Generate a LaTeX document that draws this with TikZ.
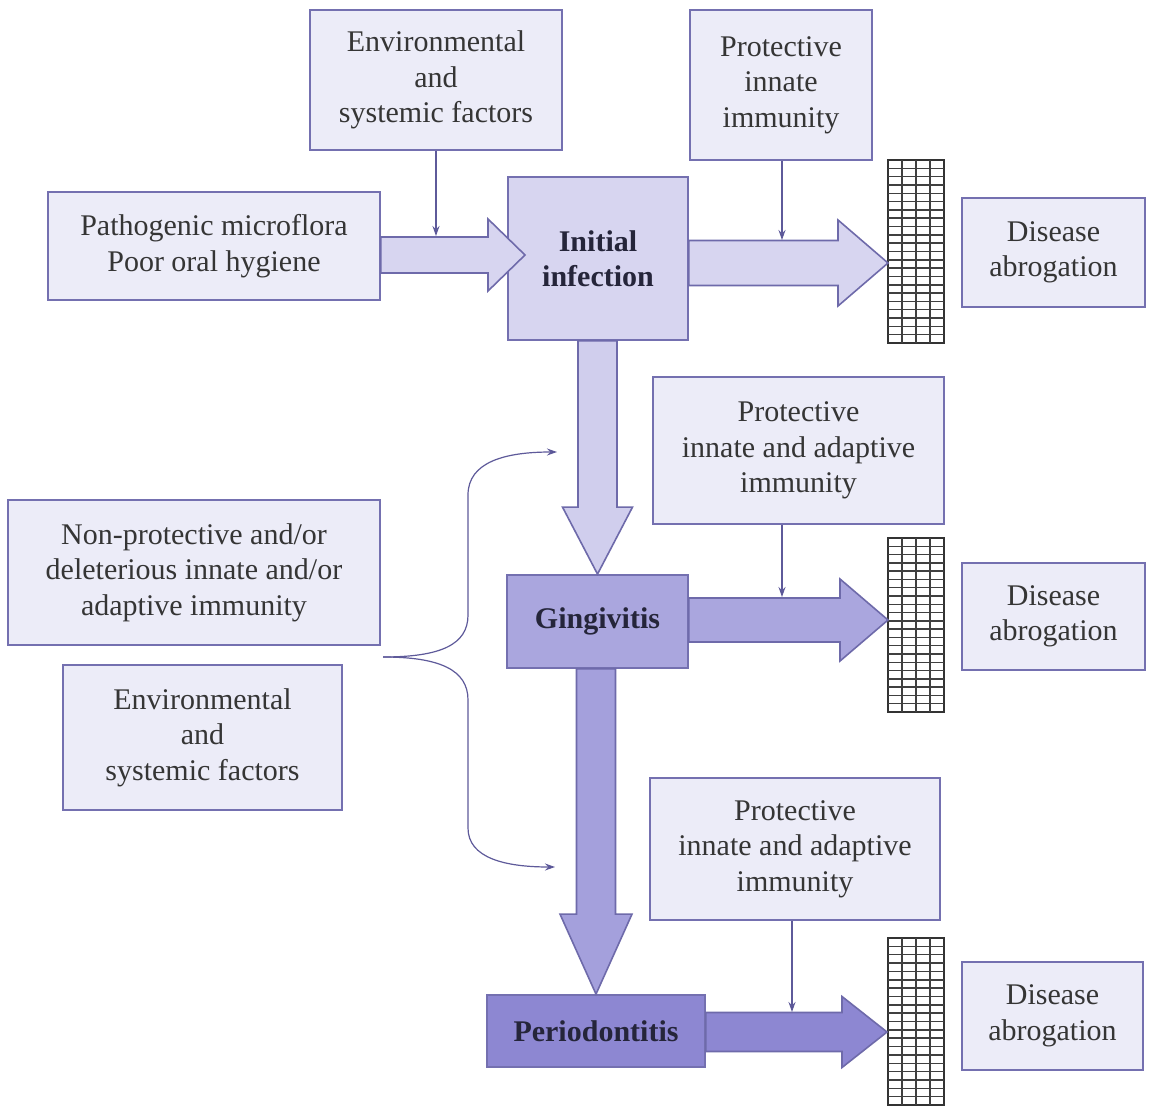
\documentclass[tikz,border=0pt]{standalone}
\usepackage{fontspec}
\setmainfont{Liberation Serif}
\usetikzlibrary{arrows.meta,calc}

\definecolor{edge}{HTML}{7470B0}
\definecolor{arredge}{HTML}{6E6AAA}
\definecolor{txtfill}{HTML}{ECECF8}
\definecolor{initfill}{HTML}{D7D5F0}
\definecolor{gingfill}{HTML}{AAA6DE}
\definecolor{periofill}{HTML}{8D87D2}
\definecolor{txtcol}{HTML}{353535}
\definecolor{boldcol}{HTML}{25253A}
\definecolor{thinline}{HTML}{5E5A9A}
\definecolor{tipcol}{HTML}{35357A}

% horizontal block arrow: start, tip, shaft half-width, head half-width, head length, fill
\newcommand\rightblock[6]{%
  \draw[blockarr,fill=#6] let \p1=(#1),\p2=(#2) in
    (\x1,\y2+#3) -- (\x2-#5,\y2+#3) -- (\x2-#5,\y2+#4) -- (\x2,\y2)
    -- (\x2-#5,\y2-#4) -- (\x2-#5,\y2-#3) -- (\x1,\y2-#3) -- cycle;}
% downward block arrow: start, tip, shaft half-width, head half-width, head length, fill
\newcommand\downblock[6]{%
  \draw[blockarr,fill=#6] let \p1=(#1),\p2=(#2) in
    (\x2-#3,\y1) -- (\x2-#3,\y2+#5) -- (\x2-#4,\y2+#5) -- (\x2,\y2)
    -- (\x2+#4,\y2+#5) -- (\x2+#3,\y2+#5) -- (\x2+#3,\y1) -- cycle;}
% barrier grid: name, x0, y0, x1, y1, inner horizontal lines
\newcommand\cagegrid[6]{%
  \node[cage, minimum width={(#4-#2)*1pt}, minimum height={(#5-#3)*1pt}]
    (#1) at ({(#2+#4)/2},{(#3+#5)/2}) {};
  \foreach \j in {1,...,#6}
    \draw[cageln] (#2,{#3+\j*(#5-#3)/(#6+1)}) -- (#4,{#3+\j*(#5-#3)/(#6+1)});
  \foreach \i in {1,2,3}
    \draw[cageln, line width=2pt] ({#2+\i*(#4-#2)/4},#3) -- ({#2+\i*(#4-#2)/4},#5);}

\begin{document}
\begin{tikzpicture}[x=1pt,y=-1pt,
  txtbox/.style={draw=edge, line width=1.8pt, fill=txtfill, align=center,
    inner sep=0pt, text=txtcol, font=\fontsize{30}{35.5}\selectfont},
  stagebox/.style={draw=edge, line width=1.8pt, align=center, inner sep=0pt,
    text=boldcol, font=\fontsize{30}{35}\selectfont\bfseries},
  blockarr/.style={draw=arredge, line width=1.6pt, line join=miter},
  thinarrow/.style={draw=thinline, line width=1.2pt,
    -{Stealth[length=10pt,width=7pt,fill=tipcol]}},
  cage/.style={draw=black!80, line width=1.8pt, fill=white, inner sep=0pt},
  cageln/.style={draw=black!75, line width=1.5pt}]

\useasboundingbox[fill=white] (0,0) rectangle (1149,1110);

% ---- text boxes ----
\node[txtbox, minimum width=252pt, minimum height=140pt] (env1) at (436,80)
  {Environmental\\and\\systemic factors};
\node[txtbox, minimum width=182pt, minimum height=150pt] (prot1) at (781,85)
  {Protective\\innate\\immunity};
\node[txtbox, minimum width=332pt, minimum height=108pt] (patho) at (214,246)
  {Pathogenic microflora\\Poor oral hygiene};
\node[txtbox, minimum width=183pt, minimum height=109pt] (dis1) at (1053.5,252.5)
  {Disease\\abrogation};
\node[txtbox, minimum width=291pt, minimum height=147pt] (prot2) at (798.5,450.5)
  {Protective\\innate and adaptive\\immunity};
\node[txtbox, minimum width=372pt, minimum height=145pt] (nonprot) at (194,572.5)
  {Non-protective and/or\\deleterious innate and/or\\adaptive immunity};
\node[txtbox, minimum width=183pt, minimum height=107pt] (dis2) at (1053.5,616.5)
  {Disease\\abrogation};
\node[txtbox, minimum width=279pt, minimum height=145pt] (env2) at (202.5,737.5)
  {Environmental\\and\\systemic factors};
\node[txtbox, minimum width=290pt, minimum height=142pt] (prot3) at (795,849)
  {Protective\\innate and adaptive\\immunity};
\node[txtbox, minimum width=181pt, minimum height=108pt] (dis3) at (1052.5,1016)
  {Disease\\abrogation};

% ---- disease stages ----
\node[stagebox, fill=initfill, minimum width=180pt, minimum height=163pt] (init)
  at (598,258.5) {Initial\\infection};
\node[stagebox, fill=gingfill, minimum width=181pt, minimum height=93pt] (gingi)
  at (597.5,621.5) {Gingivitis};
\node[stagebox, fill=periofill, minimum width=218pt, minimum height=72pt] (perio)
  at (596,1031) {Periodontitis};

% ---- barriers ----
\cagegrid{g1}{888}{160}{944}{343}{21}
\cagegrid{g2}{888}{538}{944}{712}{20}
\cagegrid{g3}{888}{938}{944}{1105}{19}

% ---- arrow tips and junctions ----
\coordinate (t1) at (525,255);
\coordinate (t2) at (888,263);
\coordinate (t4) at (888,620);
\coordinate (t6) at (887,1032);
\coordinate (j1) at (436,236);
\coordinate (j2) at (782,240);
\coordinate (j4) at (782,597);
\coordinate (j6) at (792,1012);
\coordinate (bm) at (383,657);
\coordinate (bt) at (557,452);
\coordinate (bb) at (555,867);

% ---- block arrows ----
\downblock{init.south}{gingi.north}{19.5pt}{35pt}{67pt}{initfill!85!gingfill}
\downblock{gingi.south}{perio.north}{19.5pt}{36pt}{80pt}{gingfill!80!periofill}
\rightblock{patho.east}{t1}{18pt}{36pt}{37pt}{initfill}
\rightblock{init.east}{t2}{22.5pt}{43pt}{50pt}{initfill}
\rightblock{gingi.east}{t4}{22pt}{41pt}{48pt}{gingfill}
\rightblock{perio.east}{t6}{19.5pt}{35.5pt}{45pt}{periofill}

% ---- modifying influences ----
\draw[thinarrow] (env1.south) -- (j1);
\draw[thinarrow] (prot1.south -| j2) -- (j2);
\draw[thinarrow] (prot2.south -| j4) -- (j4);
\draw[thinarrow] (prot3.south -| j6) -- (j6);

% ---- brace from the left-hand factors ----
\draw[thinarrow] (bm) .. controls (440,657) and (468,645) .. (468,615)
  -- (468,495) .. controls (468,462) and (505,452) .. (bt);
\draw[thinarrow] (bm) .. controls (440,657) and (468,670) .. (468,700)
  -- (468,828) .. controls (468,858) and (505,867) .. (bb);
\end{tikzpicture}
\end{document}
